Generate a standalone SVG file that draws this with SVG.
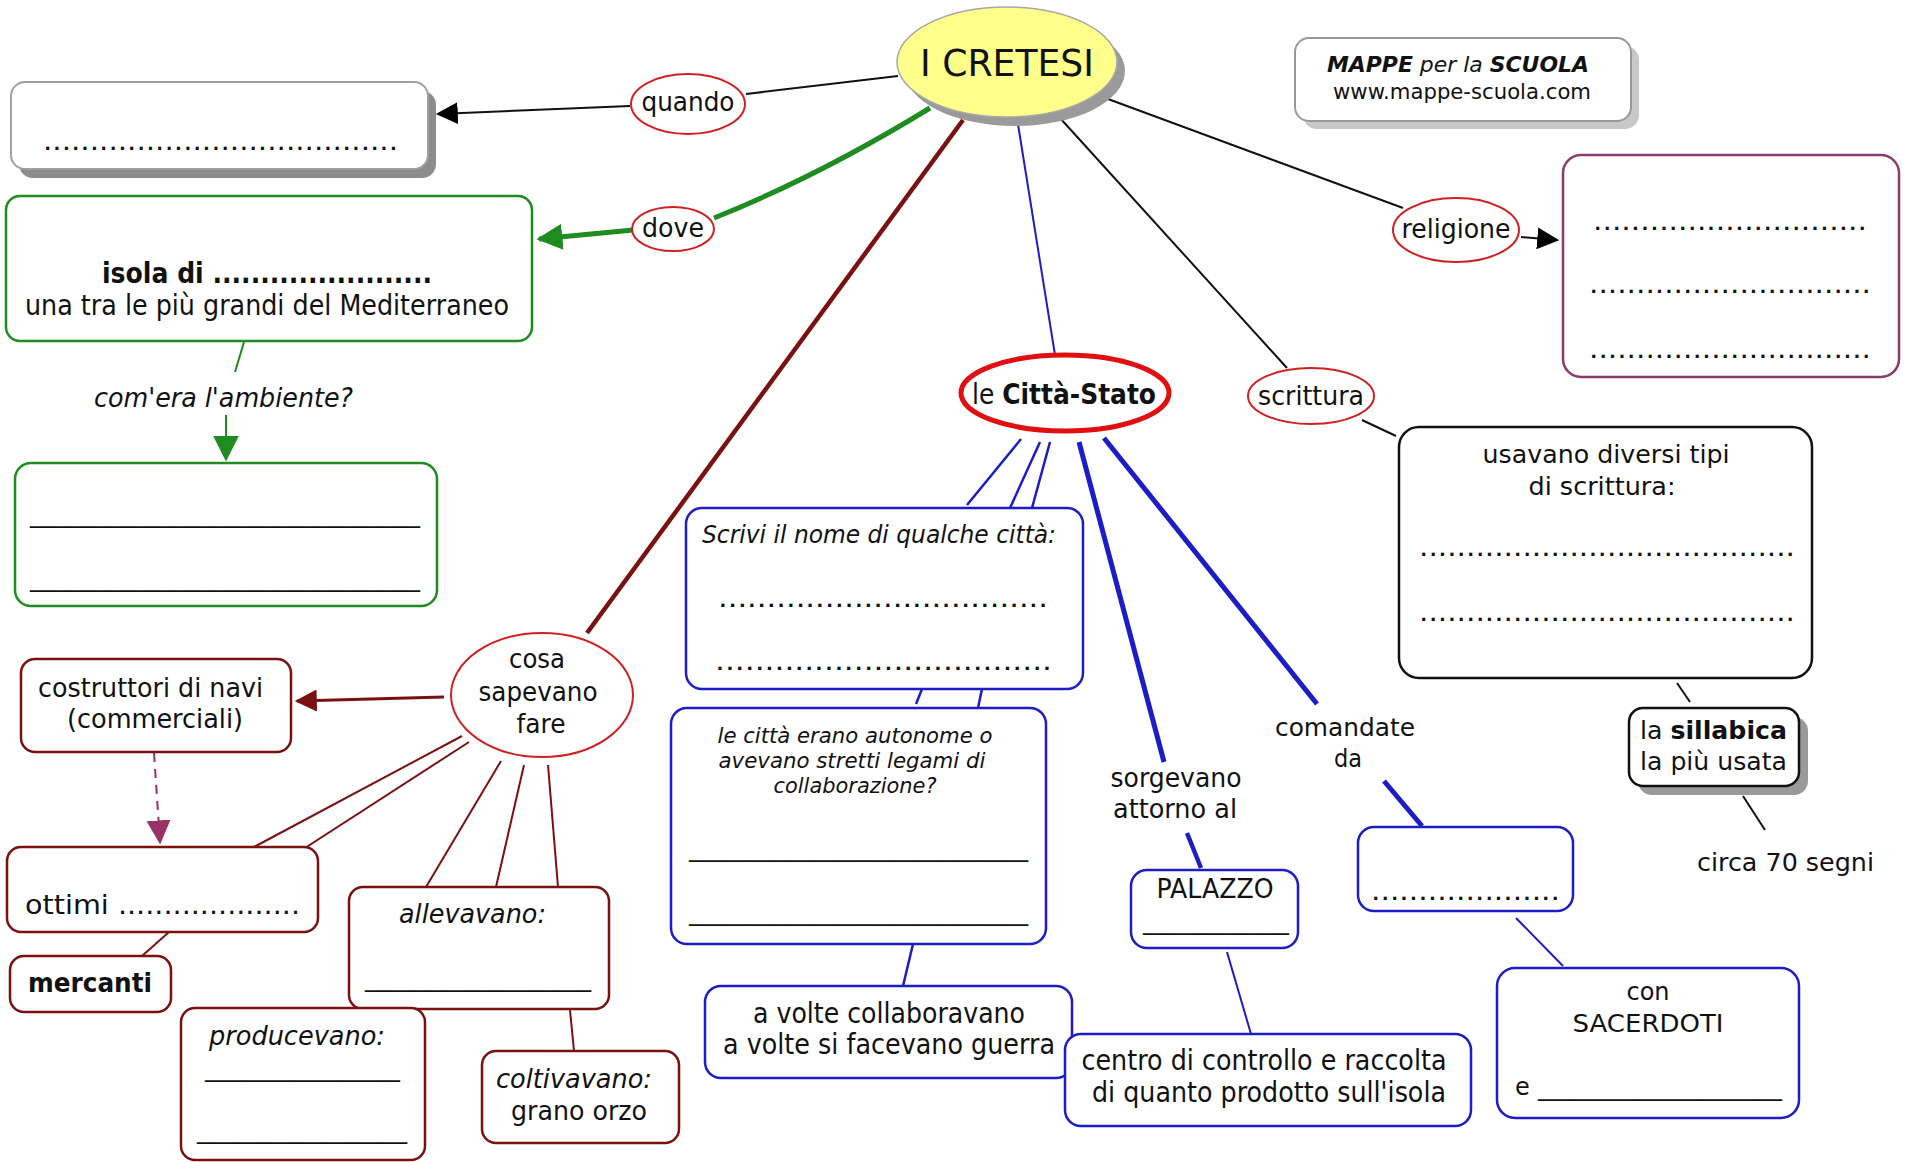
<svg xmlns="http://www.w3.org/2000/svg" width="1910" height="1162" viewBox="0 0 1910 1162">
<defs>
<style>
text{font-family:"DejaVu Sans",Verdana,sans-serif;fill:#111;font-size:26px}
.c{text-anchor:middle}
.i{font-style:italic}
.b{font-weight:bold}
.s22{font-size:22px}
.s24{font-size:24px}
.s28{font-size:28px}
.s36{font-size:38px}
.box{fill:#fff;stroke-width:2.5}
.blue{stroke:#1c1cc8}
.brown{stroke:#7b1010}
.green{stroke:#1e8c1e}
.red{fill:#fff;stroke:#d02020;stroke-width:2}
.ln{fill:none;stroke-width:2}
.w25{stroke-width:2.5}
.w3{stroke-width:3}
.w4{stroke-width:4.5}
.w5{stroke-width:5}
.k{stroke:#111}
.dr{stroke:#7b1010}
.shadow{fill:#8c8c8c}
</style>
<marker id="ahK" viewBox="0 0 10 10" refX="9" refY="5" markerWidth="22" markerHeight="22" markerUnits="userSpaceOnUse" orient="auto"><path d="M0,0 L10,5 L0,10 z" fill="#000"/></marker>
<marker id="ahG" viewBox="0 0 10 10" refX="9" refY="5" markerWidth="26" markerHeight="26" markerUnits="userSpaceOnUse" orient="auto"><path d="M0,0 L10,5 L0,10 z" fill="#1e8c1e"/></marker>
<marker id="ahBr" viewBox="0 0 10 10" refX="9" refY="5" markerWidth="22" markerHeight="22" markerUnits="userSpaceOnUse" orient="auto"><path d="M0,0 L10,5 L0,10 z" fill="#7b1010"/></marker>
<marker id="ahP" viewBox="0 0 10 10" refX="9" refY="5" markerWidth="24" markerHeight="26" markerUnits="userSpaceOnUse" orient="auto"><path d="M0,0 L10,5 L0,10 z" fill="#993366"/></marker>
</defs>
<rect x="0" y="0" width="1910" height="1162" fill="#fff"/>

<g id="connectors">
<line class="ln k" x1="746" y1="94" x2="898" y2="76"/>
<line class="ln k" x1="630" y1="106" x2="438" y2="114" marker-end="url(#ahK)"/>
<line class="ln green w5" x1="633" y1="230" x2="539" y2="239" marker-end="url(#ahG)"/>
<path class="ln green w5" d="M714,218 Q819,176 930,108"/>
<line class="ln dr w4" x1="963" y1="120" x2="587" y2="633"/>
<line class="ln blue" x1="1017" y1="118" x2="1055" y2="355"/>
<line class="ln k" x1="1060" y1="118" x2="1287" y2="368"/>
<line class="ln k" x1="1108" y1="99" x2="1403" y2="208"/>
<line class="ln k" x1="1521" y1="237" x2="1557" y2="240" marker-end="url(#ahK)"/>
<line class="ln k" x1="1362" y1="420" x2="1396" y2="436"/>
<line class="ln k" x1="1677" y1="683" x2="1690" y2="702"/>
<line class="ln k" x1="1743" y1="796" x2="1765" y2="830"/>
<line class="ln blue w25" x1="1021" y1="439" x2="967" y2="505"/>
<line class="ln blue w25" x1="1040" y1="442" x2="1010" y2="508"/>
<line class="ln blue w25" x1="1050" y1="442" x2="1032" y2="508"/>
<line class="ln blue w25" x1="922" y1="689" x2="916" y2="704"/>
<line class="ln blue w25" x1="982" y1="689" x2="978" y2="708"/>
<line class="ln blue w25" x1="913" y1="944" x2="903" y2="986"/>
<line class="ln blue w5" x1="1079" y1="442" x2="1164" y2="762"/>
<line class="ln blue w4" x1="1187" y1="833" x2="1201" y2="868"/>
<line class="ln blue" x1="1227" y1="952" x2="1251" y2="1034"/>
<line class="ln blue w5" x1="1104" y1="438" x2="1317" y2="704"/>
<line class="ln blue w5" x1="1384" y1="781" x2="1422" y2="826"/>
<line class="ln blue" x1="1516" y1="918" x2="1563" y2="966"/>
<line class="ln green" x1="244" y1="342" x2="235" y2="372"/>
<line class="ln green" x1="226" y1="415" x2="226" y2="459" marker-end="url(#ahG)"/>
<line class="ln dr w3" x1="444" y1="697" x2="297" y2="701" marker-end="url(#ahBr)"/>
<line class="ln" stroke="#993366" stroke-dasharray="9,7" x1="154" y1="753" x2="160" y2="842" marker-end="url(#ahP)"/>
<line class="ln brown" x1="462" y1="736" x2="254" y2="847"/>
<line class="ln brown" x1="469" y1="742" x2="305" y2="848"/>
<line class="ln brown" x1="501" y1="761" x2="426" y2="887"/>
<line class="ln brown" x1="524" y1="765" x2="496" y2="887"/>
<line class="ln brown" x1="548" y1="765" x2="558" y2="887"/>
<line class="ln brown" x1="169" y1="932" x2="142" y2="956"/>
<line class="ln brown" x1="570" y1="1010" x2="574" y2="1051"/>
</g>

<g id="cretesi">
<ellipse cx="1015" cy="71" rx="110" ry="55" fill="#9a9a9a"/>
<ellipse cx="1007" cy="62" rx="110" ry="55" fill="#ffff8c" stroke="#a8a8a8" stroke-width="1.5"/>
<text class="c s36" x="1007" y="76" textLength="174" lengthAdjust="spacingAndGlyphs">I CRETESI</text>
</g>

<g id="quando"><ellipse class="red" cx="688" cy="104" rx="57" ry="30"/>
<text class="c" x="688" y="111" textLength="93" lengthAdjust="spacingAndGlyphs">quando</text></g>

<g id="dove"><ellipse class="red" cx="673" cy="229" rx="41" ry="22"/>
<text class="c" x="673" y="237" textLength="62" lengthAdjust="spacingAndGlyphs">dove</text></g>

<g id="quando-box">
<rect class="shadow" x="19" y="91" width="417" height="87" rx="14"/>
<rect x="11" y="82" width="417" height="87" rx="14" fill="#fff" stroke="#a0a0a0" stroke-width="2"/>
<text x="43" y="150" textLength="355" lengthAdjust="spacingAndGlyphs">......................................</text>
</g>

<g id="dove-box">
<rect class="box green" stroke-width="4" x="6" y="196" width="526" height="145" rx="14"/>
<text class="b s28" x="102" y="283" textLength="330" lengthAdjust="spacingAndGlyphs">isola di .......................</text>
<text class="s28" x="25" y="315" textLength="484" lengthAdjust="spacingAndGlyphs">una tra le più grandi del Mediterraneo</text>
</g>

<g id="ambiente-label">
<text class="i" x="94" y="407" textLength="259" lengthAdjust="spacingAndGlyphs">com'era l'ambiente?</text>
</g>

<g id="ambiente-box">
<rect class="box green" x="15" y="463" width="422" height="143" rx="16"/>
<text x="30" y="522" textLength="390" lengthAdjust="spacingAndGlyphs">______________________________</text>
<text x="30" y="586" textLength="390" lengthAdjust="spacingAndGlyphs">______________________________</text>
</g>

<g id="citta-stato">
<ellipse cx="1065" cy="393" rx="104" ry="38" fill="#fff" stroke="#e01010" stroke-width="5"/>
<text class="c s28" x="1064" y="404" textLength="184" lengthAdjust="spacingAndGlyphs">le <tspan class="b">Città-Stato</tspan></text>
</g>

<g id="scrittura"><ellipse class="red" cx="1311" cy="396" rx="63" ry="28"/>
<text class="c" x="1311" y="405" textLength="106" lengthAdjust="spacingAndGlyphs">scrittura</text></g>

<g id="religione"><ellipse class="red" cx="1456" cy="230" rx="63" ry="32"/>
<text class="c" x="1456" y="238" textLength="109" lengthAdjust="spacingAndGlyphs">religione</text></g>

<g id="religione-box">
<rect class="box" stroke="#8b3c6e" x="1563" y="155" width="336" height="222" rx="18"/>
<text x="1593" y="230" textLength="274" lengthAdjust="spacingAndGlyphs">.............................</text>
<text x="1589" y="293" textLength="282" lengthAdjust="spacingAndGlyphs">..............................</text>
<text x="1589" y="358" textLength="282" lengthAdjust="spacingAndGlyphs">..............................</text>
</g>

<g id="mappe">
<rect x="1303" y="46" width="336" height="83" rx="14" fill="#c8c8c8"/>
<rect x="1295" y="38" width="336" height="83" rx="14" fill="#fff" stroke="#999" stroke-width="2"/>
<text class="s22 i" x="1327" y="72" textLength="262" lengthAdjust="spacingAndGlyphs"><tspan class="b">MAPPE</tspan>  per la  <tspan class="b">SCUOLA</tspan></text>
<text class="s22" x="1333" y="99" textLength="258" lengthAdjust="spacingAndGlyphs">www.mappe-scuola.com</text>
</g>

<g id="scrittura-box">
<rect class="box" stroke="#111" x="1399" y="427" width="413" height="251" rx="20"/>
<text class="c s24" x="1606" y="463" textLength="247" lengthAdjust="spacingAndGlyphs">usavano diversi tipi</text>
<text class="c s24" x="1602" y="495" textLength="147" lengthAdjust="spacingAndGlyphs">di scrittura:</text>
<text x="1419" y="556" textLength="376" lengthAdjust="spacingAndGlyphs">........................................</text>
<text x="1419" y="621" textLength="376" lengthAdjust="spacingAndGlyphs">........................................</text>
</g>

<g id="sillabica">
<rect x="1638" y="717" width="170" height="78" rx="14" fill="#999"/>
<rect class="box" stroke="#111" x="1629" y="708" width="170" height="78" rx="14"/>
<text class="s24" x="1640" y="739" textLength="147" lengthAdjust="spacingAndGlyphs">la <tspan class="b">sillabica</tspan></text>
<text class="s24" x="1640" y="770" textLength="147" lengthAdjust="spacingAndGlyphs">la più usata</text>
</g>

<g id="circa"><text class="s24" x="1697" y="871" textLength="177" lengthAdjust="spacingAndGlyphs">circa 70 segni</text></g>

<g id="comandate-label">
<text class="c s24" x="1345" y="736" textLength="140" lengthAdjust="spacingAndGlyphs">comandate</text>
<text class="c s24" x="1348" y="767" textLength="28" lengthAdjust="spacingAndGlyphs">da</text>
</g>

<g id="comandate-box">
<rect class="box blue" x="1358" y="827" width="215" height="84" rx="16"/>
<text x="1371" y="900" textLength="189" lengthAdjust="spacingAndGlyphs">....................</text>
</g>

<g id="sacerdoti-box">
<rect class="box blue" x="1497" y="968" width="302" height="150" rx="18"/>
<text class="c s24" x="1648" y="1000" textLength="43" lengthAdjust="spacingAndGlyphs">con</text>
<text class="c s24" x="1648" y="1032" textLength="151" lengthAdjust="spacingAndGlyphs">SACERDOTI</text>
<text class="s24" x="1515" y="1095">e</text>
<text class="s24" x="1538" y="1095" textLength="244" lengthAdjust="spacingAndGlyphs">____________________</text>
</g>

<g id="sorgevano-label">
<text class="c" x="1176" y="787" textLength="131" lengthAdjust="spacingAndGlyphs">sorgevano</text>
<text class="c" x="1175" y="818" textLength="124" lengthAdjust="spacingAndGlyphs">attorno al</text>
</g>

<g id="palazzo">
<rect class="box blue" x="1131" y="870" width="167" height="78" rx="16"/>
<text class="c" x="1215" y="898" textLength="117" lengthAdjust="spacingAndGlyphs">PALAZZO</text>
<text x="1143" y="929" textLength="146" lengthAdjust="spacingAndGlyphs">____________</text>
</g>

<g id="scrivi-box">
<rect class="box blue" x="686" y="508" width="397" height="181" rx="16"/>
<text class="i s24" x="702" y="543" textLength="354" lengthAdjust="spacingAndGlyphs">Scrivi il nome di qualche città:</text>
<text x="718" y="607" textLength="330" lengthAdjust="spacingAndGlyphs">..................................</text>
<text x="715" y="670" textLength="337" lengthAdjust="spacingAndGlyphs">..................................</text>
</g>

<g id="lecitta-box">
<rect class="box blue" x="671" y="708" width="375" height="236" rx="16"/>
<text class="c i s22" x="855" y="743" textLength="275" lengthAdjust="spacingAndGlyphs">le città erano autonome o</text>
<text class="c i s22" x="852" y="768" textLength="267" lengthAdjust="spacingAndGlyphs">avevano stretti legami di</text>
<text class="c i s22" x="855" y="793" textLength="163" lengthAdjust="spacingAndGlyphs">collaborazione?</text>
<text x="689" y="856" textLength="339" lengthAdjust="spacingAndGlyphs">____________________________</text>
<text x="689" y="920" textLength="339" lengthAdjust="spacingAndGlyphs">____________________________</text>
</g>

<g id="avolte-box">
<rect class="box blue" x="705" y="986" width="367" height="92" rx="16"/>
<text class="c s28" x="889" y="1023" textLength="272" lengthAdjust="spacingAndGlyphs">a volte collaboravano</text>
<text class="c s28" x="889" y="1054" textLength="332" lengthAdjust="spacingAndGlyphs">a volte si facevano guerra</text>
</g>

<g id="centro-box">
<rect class="box blue" x="1065" y="1034" width="406" height="92" rx="16"/>
<text class="c s28" x="1264" y="1070" textLength="365" lengthAdjust="spacingAndGlyphs">centro di controllo e raccolta</text>
<text class="c s28" x="1269" y="1102" textLength="354" lengthAdjust="spacingAndGlyphs">di quanto prodotto sull'isola</text>
</g>

<g id="cosa">
<ellipse class="red" cx="542" cy="695" rx="91" ry="62"/>
<text class="c" x="537" y="668" textLength="56" lengthAdjust="spacingAndGlyphs">cosa</text>
<text class="c" x="538" y="701" textLength="119" lengthAdjust="spacingAndGlyphs">sapevano</text>
<text class="c" x="541" y="733" textLength="49" lengthAdjust="spacingAndGlyphs">fare</text>
</g>

<g id="costruttori">
<rect class="box brown" x="21" y="659" width="270" height="93" rx="14"/>
<text x="38" y="697" textLength="225" lengthAdjust="spacingAndGlyphs">costruttori di navi</text>
<text x="67" y="728" textLength="176" lengthAdjust="spacingAndGlyphs">(commerciali)</text>
</g>

<g id="ottimi">
<rect class="box brown" x="7" y="847" width="311" height="85" rx="14"/>
<text x="25" y="914" textLength="275" lengthAdjust="spacingAndGlyphs">ottimi ....................</text>
</g>

<g id="mercanti">
<rect class="box brown" x="10" y="956" width="161" height="56" rx="14"/>
<text class="b" x="28" y="992" textLength="124" lengthAdjust="spacingAndGlyphs">mercanti</text>
</g>

<g id="allevavano">
<rect class="box brown" x="349" y="887" width="260" height="122" rx="14"/>
<text class="i" x="399" y="923" textLength="147" lengthAdjust="spacingAndGlyphs">allevavano:</text>
<text x="365" y="986" textLength="226" lengthAdjust="spacingAndGlyphs">__________________</text>
</g>

<g id="producevano">
<rect class="box brown" x="181" y="1008" width="244" height="152" rx="14"/>
<text class="i" x="209" y="1045" textLength="176" lengthAdjust="spacingAndGlyphs">producevano:</text>
<text x="205" y="1076" textLength="195" lengthAdjust="spacingAndGlyphs">________________</text>
<text x="197" y="1138" textLength="210" lengthAdjust="spacingAndGlyphs">_________________</text>
</g>

<g id="coltivavano">
<rect class="box brown" x="482" y="1051" width="197" height="92" rx="14"/>
<text class="i" x="496" y="1088" textLength="156" lengthAdjust="spacingAndGlyphs">coltivavano:</text>
<text x="511" y="1120" textLength="136" lengthAdjust="spacingAndGlyphs">grano orzo</text>
</g>
</svg>
